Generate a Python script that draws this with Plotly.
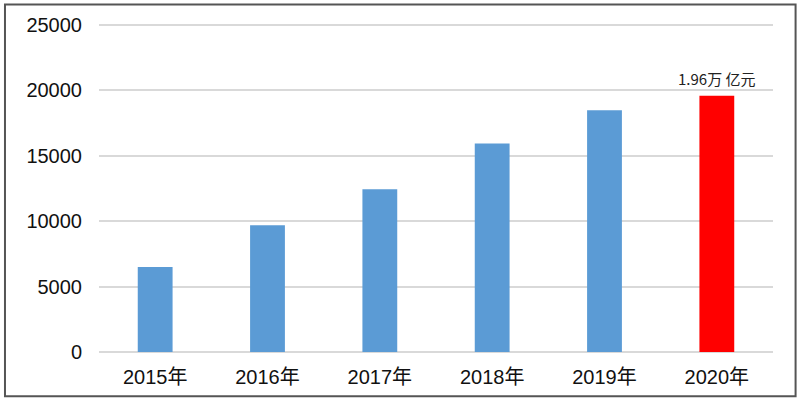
import plotly.graph_objects as go

years = ["2015年", "2016年", "2017年", "2018年", "2019年", "2020年"]
values = [6500, 9700, 12450, 15950, 18480, 19600]
colors = ["#5b9bd5", "#5b9bd5", "#5b9bd5", "#5b9bd5", "#5b9bd5", "#ff0000"]
label_text = "1.96万 亿元"

FONT = "Liberation Sans, Arial, Noto Sans CJK SC, sans-serif"

fig = go.Figure()
fig.add_trace(go.Bar(x=years, y=values, marker=dict(color=colors, line=dict(width=0)),
                     width=0.31, hoverinfo="skip"))

fig.add_annotation(x=years[-1], y=values[-1], text=label_text, showarrow=False,
                   yanchor="bottom", yshift=5,
                   font=dict(family="Noto Sans CJK SC, sans-serif", size=15, color="#222222"))

# plot area: y from 22 to 352.3 px, x from 99 to 773 px
ph = 330.3
fig.add_shape(type="rect", xref="paper", yref="paper",
              x0=-0.1395, x1=1.0335, y0=(352.3 - 396.5) / ph, y1=(352.3 - 4.5) / ph,
              line=dict(color="#555555", width=2), fillcolor="rgba(0,0,0,0)", layer="above")

fig.update_layout(
    width=800, height=400,
    margin=dict(l=99, r=27, t=22, b=48),
    paper_bgcolor="white", plot_bgcolor="white",
    showlegend=False,
    font=dict(family=FONT, size=20, color="#111111"),
    xaxis=dict(type="category", showgrid=False, showline=False, ticks="",
               ticklabelstandoff=11, tickfont=dict(size=20)),
    yaxis=dict(range=[0, 25230], tickvals=[0, 5000, 10000, 15000, 20000, 25000],
               tickformat="d", showgrid=True, gridcolor="#d9d9d9", gridwidth=1.5,
               zeroline=True, zerolinecolor="#d9d9d9", zerolinewidth=1.5,
               showline=False, ticks="", ticklabelstandoff=16, tickfont=dict(size=20)),
)

fig.write_html("out.html", config={"displayModeBar": False},
               post_script="document.body.style.margin='0';")
